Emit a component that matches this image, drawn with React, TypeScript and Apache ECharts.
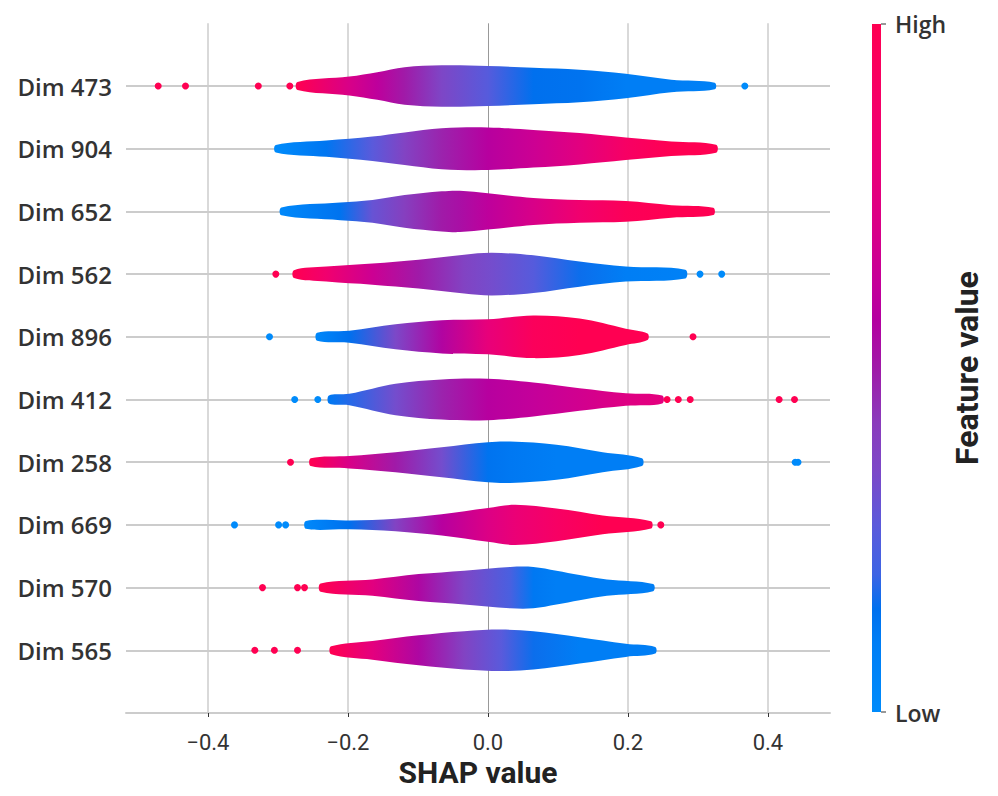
import React, { useEffect, useRef } from "react";
import * as echarts from "echarts";

// Feature names, bottom (row 0) to top (row 9)
const features = ["Dim 565", "Dim 570", "Dim 669", "Dim 258", "Dim 412", "Dim 896", "Dim 562", "Dim 652", "Dim 904", "Dim 473"];

const xTicks = [-0.4, -0.2, 0.0, 0.2, 0.4];
const X_MIN = -0.517;
const X_MAX = 0.4887;

// Violin profiles: SHAP x positions, half-widths (in row units), mean feature value (0 low .. 1 high)
const dim565X = [-0.224, -0.165, -0.099, -0.034, 0.019, 0.065, 0.131, 0.197, 0.239];
const dim565W = [0.063, 0.15, 0.24, 0.305, 0.33, 0.305, 0.21, 0.105, 0.053];
const dim565C = [1.0, 0.76, 0.55, 0.38, 0.27, 0.16, 0.1, 0.1, 0.1];

const dim570X = [-0.239, -0.165, -0.099, -0.034, 0.032, 0.065, 0.098, 0.131, 0.17, 0.236];
const dim570W = [0.066, 0.13, 0.215, 0.27, 0.33, 0.33, 0.27, 0.2, 0.13, 0.058];
const dim570C = [1.0, 0.75, 0.55, 0.36, 0.23, 0.12, 0.1, 0.1, 0.1, 0.1];

const dim669X = [-0.26, -0.198, -0.132, -0.066, 0.0, 0.039, 0.098, 0.164, 0.233];
const dim669W = [0.063, 0.07, 0.1, 0.17, 0.27, 0.32, 0.26, 0.15, 0.058];
const dim669C = [0.02, 0.15, 0.38, 0.58, 0.72, 0.8, 0.9, 1.0, 1.0];

const dim258X = [-0.253, -0.198, -0.132, -0.066, 0.0, 0.032, 0.098, 0.164, 0.22];
const dim258W = [0.062, 0.1, 0.16, 0.24, 0.32, 0.33, 0.28, 0.16, 0.062];
const dim258C = [1.0, 0.7, 0.5, 0.33, 0.14, 0.12, 0.1, 0.1, 0.1];

const dim412X = [-0.227, -0.198, -0.132, -0.066, 0.0, 0.065, 0.131, 0.197, 0.249];
const dim412W = [0.065, 0.09, 0.25, 0.32, 0.33, 0.27, 0.18, 0.1, 0.063];
const dim412C = [0.12, 0.18, 0.33, 0.48, 0.58, 0.62, 0.67, 0.73, 0.76];

const dim896X = [-0.244, -0.198, -0.132, -0.066, 0.0, 0.065, 0.131, 0.197, 0.228];
const dim896W = [0.063, 0.095, 0.2, 0.265, 0.28, 0.34, 0.29, 0.13, 0.053];
const dim896C = [0.03, 0.15, 0.35, 0.56, 0.78, 0.95, 1.0, 1.0, 1.0];

const dim562X = [-0.277, -0.231, -0.165, -0.099, -0.034, 0.006, 0.065, 0.131, 0.197, 0.282];
const dim562W = [0.063, 0.12, 0.17, 0.23, 0.31, 0.34, 0.3, 0.2, 0.12, 0.07];
const dim562C = [1.0, 0.85, 0.65, 0.5, 0.38, 0.33, 0.26, 0.16, 0.1, 0.08];

const dim652X = [-0.295, -0.211, -0.165, -0.119, -0.066, -0.04, 0.0, 0.065, 0.131, 0.197, 0.262, 0.322];
const dim652W = [0.063, 0.14, 0.18, 0.26, 0.32, 0.33, 0.29, 0.215, 0.18, 0.165, 0.1, 0.058];
const dim652C = [0.02, 0.14, 0.3, 0.4, 0.5, 0.53, 0.6, 0.7, 0.85, 0.97, 1.0, 1.0];

const dim904X = [-0.303, -0.231, -0.165, -0.119, -0.066, 0.0, 0.065, 0.131, 0.197, 0.262, 0.326];
const dim904W = [0.06, 0.13, 0.195, 0.26, 0.326, 0.34, 0.3, 0.25, 0.18, 0.115, 0.063];
const dim904C = [0.0, 0.13, 0.27, 0.38, 0.48, 0.58, 0.65, 0.75, 0.9, 1.0, 1.0];

const dim473X = [-0.272, -0.198, -0.158, -0.119, -0.066, 0.0, 0.065, 0.131, 0.197, 0.262, 0.324];
const dim473W = [0.065, 0.15, 0.22, 0.3, 0.33, 0.32, 0.29, 0.26, 0.195, 0.1, 0.053];
const dim473C = [1.0, 0.7, 0.6, 0.5, 0.36, 0.26, 0.15, 0.14, 0.1, 0.1, 0.08];

// Outlier dots: [shap value, row, feature value]
const outlierDots = [
  [-0.471, 9, 1], [-0.432, 9, 1], [-0.328, 9, 1], [-0.283, 9, 1], [0.367, 9, 0],
  [-0.303, 6, 1], [0.303, 6, 0], [0.334, 6, 0],
  [-0.312, 5, 0], [0.293, 5, 1],
  [-0.276, 4, 0], [-0.243, 4, 0], [0.256, 4, 1], [0.272, 4, 1], [0.289, 4, 1], [0.416, 4, 1], [0.438, 4, 1],
  [-0.282, 3, 1], [0.439, 3, 0], [0.443, 3, 0],
  [-0.362, 2, 0], [-0.299, 2, 0], [-0.289, 2, 0], [0.247, 2, 1],
  [-0.322, 1, 1], [-0.272, 1, 1], [-0.262, 1, 1],
  [-0.333, 0, 1], [-0.305, 0, 1], [-0.272, 0, 1],
];

const violins = [
  { x: dim565X, w: dim565W, c: dim565C },
  { x: dim570X, w: dim570W, c: dim570C },
  { x: dim669X, w: dim669W, c: dim669C },
  { x: dim258X, w: dim258W, c: dim258C },
  { x: dim412X, w: dim412W, c: dim412C },
  { x: dim896X, w: dim896W, c: dim896C },
  { x: dim562X, w: dim562W, c: dim562C },
  { x: dim652X, w: dim652W, c: dim652C },
  { x: dim904X, w: dim904W, c: dim904C },
  { x: dim473X, w: dim473W, c: dim473C },
];

const cmapStops: [number, string][] = [
  [0, "#008bfb"], [0.1, "#007ef5"], [0.15, "#0070ee"], [0.2, "#3d64e4"], [0.27, "#5a5adb"],
  [0.35, "#7c48c8"], [0.42, "#8a3cbc"], [0.5, "#a01aa8"], [0.57, "#b400a0"], [0.62, "#c4009a"],
  [0.7, "#d80088"], [0.78, "#e8007a"], [0.87, "#f4006a"], [1.0, "#ff0052"],
];

function hexToRgb(h: string) {
  return [parseInt(h.slice(1, 3), 16), parseInt(h.slice(3, 5), 16), parseInt(h.slice(5, 7), 16)];
}
function cmap(v: number) {
  const t = Math.max(0, Math.min(1, v));
  for (let i = 0; i < cmapStops.length - 1; i++) {
    const [a, ca] = cmapStops[i];
    const [b, cb] = cmapStops[i + 1];
    if (t >= a && t <= b) {
      const f = (t - a) / (b - a);
      const A = hexToRgb(ca), B = hexToRgb(cb);
      const r = A.map((x, k) => Math.round(x + (B[k] - x) * f));
      return `rgb(${r[0]},${r[1]},${r[2]})`;
    }
  }
  return cmapStops[cmapStops.length - 1][1];
}

const fmt = (v: number) => (v < 0 ? "\u2212" : "") + Math.abs(v).toFixed(1);

export default function App() {
  const ref = useRef<HTMLDivElement>(null);
  useEffect(() => {
    if (!ref.current) return;
    const chart = echarts.init(ref.current, null, { renderer: "svg" });
    const rows = features.map((_, i) => i);
    const gridMarks: any[] = [
      ...xTicks.map((v) => ({
        xAxis: v,
        lineStyle: v === 0 ? { color: "#999999", width: 1, type: "solid" } : { color: "#cccccc", width: 1.5, type: "solid" },
      })),
      ...rows.map((r) => ({ yAxis: r, lineStyle: { color: "#cccccc", width: 2, type: "solid" } })),
    ];
    const barStops = cmapStops.map(([o]) => ({ offset: 1 - o, color: cmap(o) })).reverse();
    const option: any = {
      animation: false,
      backgroundColor: "#ffffff",
      grid: { left: 126, right: 168, top: 23.3, bottom: 83 },
      xAxis: {
        type: "value",
        min: X_MIN,
        max: X_MAX,
        axisLine: { show: true, onZero: false, lineStyle: { color: "#cccccc", width: 2 } },
        axisTick: { show: true, customValues: xTicks, length: 4, lineStyle: { color: "#333333", width: 1 } },
        axisLabel: {
          customValues: xTicks,
          formatter: (v: number) => fmt(v),
          fontSize: 22,
          color: "#333333",
          fontFamily: "Roboto",
          margin: 18,
        },
        splitLine: { show: false },
        name: "SHAP value",
        nameLocation: "middle",
        nameGap: 37,
        nameTextStyle: { fontSize: 30, fontWeight: "bold", color: "#222222", fontFamily: "Roboto" },
      },
      yAxis: {
        type: "value",
        min: -1,
        max: 10,
        interval: 1,
        axisLine: { show: false, onZero: false },
        axisTick: { show: false },
        splitLine: { show: false },
        axisLabel: {
          formatter: (v: number) => features[v] ?? "",
          fontSize: 24,
          fontWeight: 600,
          color: "#333333",
          fontFamily: "Open Sans",
          margin: 14,
        },
      },
      series: [
        {
          type: "line",
          data: [],
          z: 0,
          silent: true,
          markLine: { silent: true, z: 0, symbol: "none", label: { show: false }, data: gridMarks, animation: false },
        },
        {
          type: "custom",
          z: 2,
          silent: true,
          encode: { x: 0, y: 1 },
          data: violins.map((_, i) => [0, i]),
          renderItem: (params: any, api: any) => {
            const row = api.value(1);
            const v = violins[row];
            const n = v.x.length;
            const top: number[][] = [];
            const bot: number[][] = [];
            for (let i = 0; i < n; i++) top.push(api.coord([v.x[i], row + v.w[i]]));
            for (let i = n - 1; i >= 0; i--) bot.push(api.coord([v.x[i], row - v.w[i]]));
            const x0 = api.coord([v.x[0], row])[0];
            const x1 = api.coord([v.x[n - 1], row])[0];
            const stops = v.x.map((xx: number, i: number) => ({
              offset: Math.max(0, Math.min(1, (api.coord([xx, row])[0] - x0) / (x1 - x0))),
              color: cmap(v.c[i]),
            }));
            return {
              type: "polygon",
              shape: { points: top.concat(bot), smooth: 0.35 },
              style: { fill: new echarts.graphic.LinearGradient(x0, 0, x1, 0, stops, true), stroke: null },
            };
          },
        },
        {
          type: "scatter",
          z: 3,
          silent: true,
          symbolSize: 7,
          data: outlierDots,
          itemStyle: { color: (p: any) => cmap(p.value[2]), opacity: 1, borderWidth: 0 },
        },
      ],
      graphic: [
        {
          type: "rect",
          shape: { x: 872, y: 24, width: 9, height: 688 },
          style: { fill: new echarts.graphic.LinearGradient(0, 0, 0, 1, barStops) },
        },
        { type: "line", shape: { x1: 881, y1: 24, x2: 886, y2: 24 }, style: { stroke: "#333333", lineWidth: 1 } },
        { type: "line", shape: { x1: 881, y1: 712, x2: 886, y2: 712 }, style: { stroke: "#333333", lineWidth: 1 } },
        {
          type: "text",
          x: 895,
          y: 24,
          style: { text: "High", fontSize: 23, fill: "#333333", fontFamily: "Open Sans", fontWeight: 600, verticalAlign: "middle", align: "left" },
        },
        {
          type: "text",
          x: 895,
          y: 713,
          style: { text: "Low", fontSize: 23, fill: "#333333", fontFamily: "Open Sans", fontWeight: 600, verticalAlign: "middle", align: "left" },
        },
        {
          type: "text",
          x: 967,
          y: 368,
          rotation: Math.PI / 2,
          style: { text: "Feature value", fontSize: 32, fontWeight: "bold", fill: "#222222", fontFamily: "Roboto", align: "center", verticalAlign: "middle" },
        },
      ],
    };
    chart.setOption(option);
    return () => chart.dispose();
  }, []);
  return <div ref={ref} style={{ position: "absolute", left: 0, top: 0, width: 998, height: 796 }} />;
}
